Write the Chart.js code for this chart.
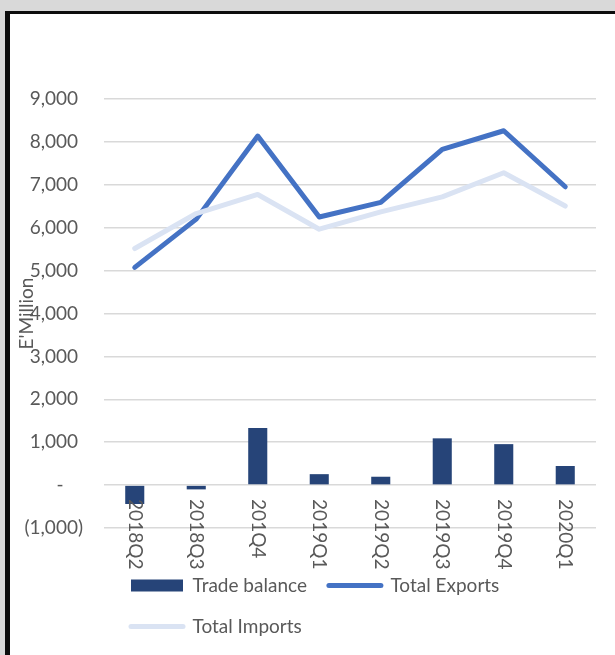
<!DOCTYPE html>
<html>
<head>
<meta charset="utf-8">
<script src="https://cdn.jsdelivr.net/npm/chart.js@4.4.1/dist/chart.umd.min.js"></script>
<style>
    body { margin: 0; background: #d9d9d9; width: 615px; height: 655px; overflow: hidden; }
    #frame {
        position: absolute; left: 5px; top: 11px; width: 605px; height: 641px;
        background: #fff; border-left: 5px solid #0d0d0d; border-top: 3px solid #0d0d0d;
    }
    canvas { display: block; }
</style>
</head>
<body>
<div id="frame"><canvas id="tradeChart" width="605" height="641"></canvas></div>
<script>
const quarters = ['2018Q2', '2018Q3', '201Q4', '2019Q1', '2019Q2', '2019Q3', '2019Q4', '2020Q1'];
const tradeBalance = [-440, -100, 1330, 255, 195, 1090, 955, 445];
const totalExports = [5075, 6200, 8135, 6250, 6590, 7825, 8260, 6955];
const totalImports = [5515, 6330, 6775, 5965, 6370, 6720, 7280, 6505];

const textColor = '#595959';
const fontName = 'Lato';

function formatTick(value) {
    if (value === 0) return '-    ';
    if (value < 0) return '(' + Math.abs(value).toLocaleString('en-US') + ')';
    return value.toLocaleString('en-US') + ' ';
}

// quarter labels hang below the zero line, rotated clockwise like the original
const quarterLabels = {
    id: 'quarterLabels',
    afterDatasetsDraw(chart) {
        const ctx = chart.ctx;
        const xScale = chart.scales.x;
        const y0 = chart.scales.y.getPixelForValue(0) + 14;
        ctx.save();
        ctx.fillStyle = textColor;
        ctx.font = '19px ' + fontName;
        ctx.textAlign = 'left';
        ctx.textBaseline = 'middle';
        quarters.forEach((q, i) => {
            ctx.save();
            ctx.translate(xScale.getPixelForValue(i), y0);
            ctx.rotate(Math.PI / 2);
            ctx.fillText(q, 0, 0);
            ctx.restore();
        });
        ctx.restore();
    }
};

// legend rows start under the plot, not at the canvas edge
const shiftLegend = {
    id: 'shiftLegend',
    beforeDraw(chart) {
        chart.legend.left = 99;
    }
};

const ctx = document.getElementById('tradeChart').getContext('2d');
new Chart(ctx, {
    type: 'bar',
    data: {
        labels: quarters,
        datasets: [{
            type: 'bar',
            label: 'Trade balance',
            data: tradeBalance,
            backgroundColor: '#264478',
            barPercentage: 0.31,
            categoryPercentage: 1,
            order: 3
        }, {
            type: 'line',
            label: 'Total Exports',
            data: totalExports,
            borderColor: '#4472c4',
            backgroundColor: '#4472c4',
            borderWidth: 5,
            borderCapStyle: 'round',
            borderJoinStyle: 'round',
            pointRadius: 0,
            tension: 0,
            order: 2
        }, {
            type: 'line',
            label: 'Total Imports',
            data: totalImports,
            borderColor: '#dae3f3',
            backgroundColor: '#dae3f3',
            borderWidth: 5,
            borderCapStyle: 'round',
            borderJoinStyle: 'round',
            pointRadius: 0,
            tension: 0,
            order: 1
        }]
    },
    options: {
        responsive: false,
        animation: false,
        layout: { padding: { left: 0, right: 19, top: 85, bottom: 9 } },
        scales: {
            x: {
                grid: { display: false },
                border: { display: false },
                ticks: { display: false },
                afterFit: (scale) => { scale.height = 26; }
            },
            y: {
                min: -1000,
                max: 9000,
                grid: { color: '#d9d9d9', lineWidth: 1.5, drawTicks: false },
                border: { display: false },
                ticks: {
                    stepSize: 1000,
                    padding: 21,
                    color: textColor,
                    font: { family: fontName, size: 19 },
                    callback: formatTick
                },
                title: {
                    display: true,
                    text: "E'Million",
                    color: textColor,
                    font: { family: fontName, size: 19 },
                    padding: { top: 5, bottom: 0 }
                },
                afterFit: (scale) => { scale.width = 94; }
            }
        },
        plugins: {
            tooltip: { enabled: false },
            legend: {
                position: 'bottom',
                align: 'start',
                labels: {
                    color: textColor,
                    font: { family: fontName, size: 19 },
                    padding: 22,
                    usePointStyle: true,
                    pointStyleWidth: 52,
                    boxHeight: 12,
                    generateLabels(chart) {
                        return chart.data.datasets.map((ds, i) => ({
                            text: ds.label,
                            datasetIndex: i,
                            fillStyle: ds.backgroundColor,
                            strokeStyle: ds.type === 'line' ? ds.borderColor : ds.backgroundColor,
                            lineWidth: ds.type === 'line' ? 5 : 0,
                            lineCap: 'round',
                            pointStyle: ds.type === 'line' ? 'line' : 'rect',
                            fontColor: textColor
                        }));
                    }
                }
            }
        }
    },
    plugins: [quarterLabels, shiftLegend]
});
</script>
</body>
</html>
